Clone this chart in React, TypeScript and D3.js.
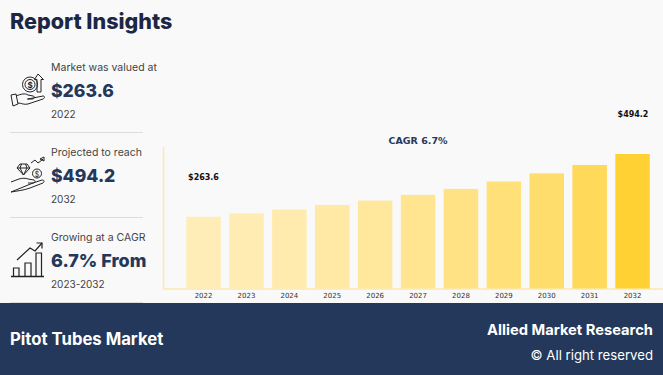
import React from "react";
import * as d3 from "d3";

const years = ["2022","2023","2024","2025","2026","2027","2028","2029","2030","2031","2032"];
const values = [263.6,276,290,307,323,344,366,393,423,454,494.2];
const barOpacity = [0.32,0.34,0.37,0.41,0.46,0.52,0.58,0.64,0.7,0.8,1];
const insightLabels = ["Market was valued at","Projected to reach","Growing at a CAGR"];
const insightValues = ["$263.6","$494.2","6.7% From"];
const insightSizes = [17.6, 17.6, 18];
const insightYears = ["2022","2032","2023-2032"];

const NAVY = "#24385B";
const SANS = "Inter, 'Open Sans', sans-serif";
const CHART = "'DejaVu Sans', sans-serif";

const x = d3.scaleBand<string>().domain(years).range([182.1, 654]).paddingInner(0.196).paddingOuter(0.098);
const y = d3.scaleLinear().domain([0, 494.2]).range([288.5, 154]);
const barColor = d3.scaleLinear<string>().domain([0, 1]).range(["#FFFAF5", "#FFD133"]);

const Icon1 = () => (
  <g fill="none" stroke="#222" strokeWidth="1">
    <circle cx="30" cy="84.5" r="7.5" /><circle cx="30" cy="84.5" r="5" />
    <text x="30" y="87.5" fontSize="8" fontWeight="700" fontFamily={SANS} fill="#222" stroke="none" textAnchor="middle">$</text>
    <path d="M38 74l5.500 5.500h-2.500V92h-4V79.500h-2.500z" />
    <path d="M11 95l5-1 2 10-5 2z" />
    <path d="M16 96c5-2 9-3 12-1l5 1c2 0 2 3-1 3h-5 M28 99l15-3c2 0 2 2 0 3l-15 5c-4 1-7-1-10-1" />
  </g>
);
const Icon2 = () => (
  <g fill="none" stroke="#222" strokeWidth="1">
    <path d="M20 164h7l3 4-6.500 7-6.500-7z M17 168h13 M21.500 164l-1.500 4 3.500 7 3.500-7-1.500-4" />
    <circle cx="37" cy="173.500" r="4.500" />
    <text x="37" y="176.500" fontSize="7" fontFamily={SANS} fill="#222" stroke="none" textAnchor="middle">$</text>
    <path d="M31 163l4-3 3 3 4-3 1-1 M40 159l4-2 0 4z" />
    <path d="M11 182l8-3c3-1 7-1 9 0l6 1c2 1 1 3-1 3h-5 M33 183l9-3c2 0 3 1 1 3l-13 5c-5 2-13 3-19 4z" />
  </g>
);
const Icon3 = () => (
  <g fill="none" stroke="#222" strokeWidth="1">
    <path d="M11 276.500h33" strokeWidth="1.300" />
    <path d="M13.500 276v-8h5.500v8 M25 276v-13h6v13 M36 276v-23h5.500v23" strokeWidth="1.200" />
    <path d="M17 260l13-12 5 3 7-8" strokeWidth="1.200" />
    <path d="M36.500 243h5.500v5.500" strokeWidth="1.200" />
  </g>
);
const icons = [<Icon1 key="1" />, <Icon2 key="2" />, <Icon3 key="3" />];

const insightY = [71, 156, 241];

export default function App() {
  return (
    <svg width={663} height={375} style={{ position: "fixed", left: 0, top: 0, display: "block" }}>
      <rect width={663} height={375} fill="#F9F9F9" />
      <text x={10} y={29} fontSize={21.500} fontWeight={800} fill="#1C2745" fontFamily={SANS}>Report Insights</text>

      {insightLabels.map((t, i) => (
        <g key={t}>
          <text x={51} y={insightY[i]} fontSize={10.500} fill="#444" fontFamily={SANS}>{t}</text>
          <text x={51} y={insightY[i] + 26} fontSize={insightSizes[i]} fontWeight={800} fill={NAVY} fontFamily={SANS}>{insightValues[i]}</text>
          <text x={51} y={insightY[i] + 47} fontSize={10} fill="#444" fontFamily={SANS}>{insightYears[i]}</text>
        </g>
      ))}
      {icons}
      {[132.500, 217.500, 302.500].map(v => (
        <line key={v} x1={10} x2={143} y1={v} y2={v} stroke="#DDD" strokeWidth={1} />
      ))}

      <path d="M163.500 147V289H663" fill="none" stroke="#FCE9AE" strokeWidth={1.500} />
      {years.map((yr, i) => (
        <g key={yr}>
          <rect x={x(yr)} y={y(values[i])} width={x.bandwidth()} height={288.500 - y(values[i])} fill={barColor(barOpacity[i])} />
          <text x={x(yr)! + x.bandwidth() / 2} y={298} fontSize={7} fill="#333" textAnchor="middle" fontFamily={CHART}>{yr}</text>
        </g>
      ))}
      <text x={418} y={144} fontSize={9.500} fontWeight={700} fill={NAVY} textAnchor="middle" fontFamily={CHART}>CAGR 6.7%</text>
      <text x={203.500} y={179.500} fontSize={8} fontWeight={700} fill="#111" textAnchor="middle" fontFamily={CHART}>$263.6</text>
      <text x={633} y={117} fontSize={8} fontWeight={700} fill="#111" textAnchor="middle" fontFamily={CHART}>$494.2</text>

      <rect x={0} y={303} width={663} height={72} fill={NAVY} />
      <text x={10} y={345} fontSize={16.700} fontWeight={700} fill="#fff" fontFamily={SANS}>Pitot Tubes Market</text>
      <text x={653} y={335} fontSize={14.700} fontWeight={700} fill="#fff" textAnchor="end" fontFamily={SANS}>Allied Market Research</text>
      <text x={653} y={360} fontSize={13.200} fill="#fff" textAnchor="end" fontFamily={SANS}>© All right reserved</text>
    </svg>
  );
}
